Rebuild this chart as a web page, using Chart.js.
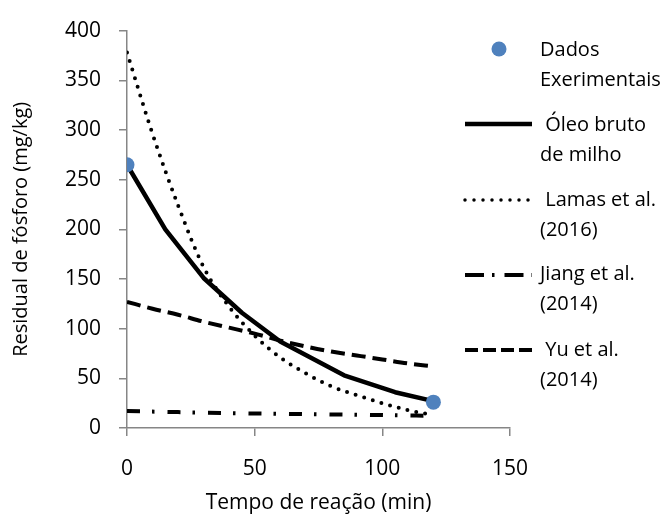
<!DOCTYPE html>
<html>
<head>
<meta charset="utf-8">
<script src="https://cdn.jsdelivr.net/npm/chart.js@4/dist/chart.umd.min.js"></script>
<style>
  html, body { margin: 0; padding: 0; background: #ffffff; }
  #wrap { position: relative; width: 668px; height: 516px; overflow: hidden; }
  canvas { position: absolute; left: 0; top: 0; }
  .lg { position: absolute; font-family: 'Open Sans', sans-serif; font-size: 20px; line-height: 30px; color: #000; white-space: pre; }
  .sw { position: absolute; }
</style>
</head>
<body>
<div id="wrap">
  <canvas id="c" width="668" height="516"></canvas>
  <svg class="sw" style="left:455px;top:30px" width="90" height="360" id="swatches"></svg>
  <div class="lg" style="left:540px;top:34px">Dados<br>Exerimentais</div>
  <div class="lg" style="left:540px;top:109px"> Óleo bruto<br>de milho</div>
  <div class="lg" style="left:540px;top:184px"> Lamas et al.<br>(2016)</div>
  <div class="lg" style="left:540px;top:258px">Jiang et al.<br>(2014)</div>
  <div class="lg" style="left:540px;top:334px"> Yu et al.<br>(2014)</div>
</div>
<script>
// ---- data ----
const expTime = [0, 120];
const expValues = [265, 26];

const oleoTime = [0, 15, 30, 45, 60, 85, 105, 120];
const oleoValues = [265, 200, 151, 116, 87, 53, 36, 27];

const lamasTime = [0, 10, 20, 30, 40, 50, 60, 70, 80, 90, 100, 110, 120];
const lamasValues = [378, 296, 224, 162, 122, 93, 71, 55, 42, 33, 25, 18, 13];

const jiangTime = [0, 20, 40, 60, 80, 100, 120];
const jiangValues = [17, 16, 15, 14.3, 13.6, 13, 12.3];

const yuTime = [0, 10, 20, 30, 40, 50, 60, 70, 80, 90, 100, 110, 120];
const yuValues = [127, 120, 114, 107, 101, 95, 88, 82, 77, 73, 69, 65, 62];

const seriesNames = ['Dados Exerimentais', 'Óleo bruto de milho', 'Lamas et al. (2016)', 'Jiang et al. (2014)', 'Yu et al. (2014)'];
const xTitle = 'Tempo de reação (min)';
const yTitle = 'Residual de fósforo (mg/kg)';
const xTicks = [0, 50, 100, 150];
const yTicks = [0, 50, 100, 150, 200, 250, 300, 350, 400];

const toXY = (xs, ys) => xs.map((x, i) => ({ x: x, y: ys[i] }));

const BLUE = 'rgb(79,129,189)';
const AXIS = '#868686';

new Chart(document.getElementById('c'), {
  type: 'scatter',
  data: {
    datasets: [
      { label: seriesNames[0], data: toXY(expTime, expValues), showLine: false,
        pointRadius: 7.5, pointHoverRadius: 7.5, backgroundColor: BLUE, borderColor: BLUE, borderWidth: 0 },
      { label: seriesNames[1], data: toXY(oleoTime, oleoValues), showLine: true, pointRadius: 0,
        borderColor: '#000', borderWidth: 4.5, tension: 0, borderJoinStyle: 'round' },
      { label: seriesNames[2], data: toXY(lamasTime, lamasValues), showLine: true, pointRadius: 0,
        borderColor: '#000', borderWidth: 4, cubicInterpolationMode: 'monotone',
        borderDash: [0, 9], borderCapStyle: 'round' },
      { label: seriesNames[3], data: toXY(jiangTime, jiangValues), showLine: true, pointRadius: 0,
        borderColor: '#000', borderWidth: 4, cubicInterpolationMode: 'monotone',
        borderDash: [13, 12, 2.5, 13] },
      { label: seriesNames[4], data: toXY(yuTime, yuValues), showLine: true, pointRadius: 0,
        borderColor: '#000', borderWidth: 4, cubicInterpolationMode: 'monotone',
        borderDash: [14, 7] }
    ]
  },
  options: {
    responsive: false,
    animation: false,
    events: [],
    layout: { padding: { left: 0, right: 158, top: 25, bottom: 0 } },
    plugins: { legend: { display: false }, tooltip: { enabled: false } },
    scales: {
      x: {
        type: 'linear', min: 0, max: 150,
        afterBuildTicks: s => { s.ticks = xTicks.map(v => ({ value: v })); },
        afterFit: s => { s.height = 88; },
        ticks: { color: '#000', padding: 20, font: { family: 'Open Sans', size: 21 } },
        grid: { drawOnChartArea: false, drawTicks: true, tickLength: 8, color: AXIS, lineWidth: 1.5 },
        border: { color: AXIS, width: 1.5 },
        title: { display: true, text: xTitle, color: '#000', font: { family: 'Open Sans', size: 21 }, padding: { top: 0, bottom: 0 } }
      },
      y: {
        type: 'linear', min: 0, max: 400,
        afterBuildTicks: s => { s.ticks = yTicks.map(v => ({ value: v })); },
        afterFit: s => { s.width = 127; },
        ticks: { color: '#000', padding: 18, font: { family: 'Open Sans', size: 21 } },
        grid: { drawOnChartArea: false, drawTicks: true, tickLength: 8, color: AXIS, lineWidth: 1.5 },
        border: { color: AXIS, width: 1.5 },
        title: { display: true, text: yTitle, color: '#000', font: { family: 'Open Sans', size: 20 }, padding: { top: 9, bottom: 0 } }
      }
    }
  }
});

// legend swatches (SVG, relative to left:455, top:30)
(function () {
  const svg = document.getElementById('swatches');
  const ns = 'http://www.w3.org/2000/svg';
  function line(y, w, dash, cap) {
    const l = document.createElementNS(ns, 'line');
    l.setAttribute('x1', 10); l.setAttribute('x2', 77);
    l.setAttribute('y1', y); l.setAttribute('y2', y);
    l.setAttribute('stroke', '#000'); l.setAttribute('stroke-width', w);
    if (dash) l.setAttribute('stroke-dasharray', dash);
    if (cap) l.setAttribute('stroke-linecap', cap);
    svg.appendChild(l);
  }
  const c = document.createElementNS(ns, 'circle');
  c.setAttribute('cx', 44); c.setAttribute('cy', 19); c.setAttribute('r', 7.5);
  c.setAttribute('fill', BLUE);
  svg.appendChild(c);
  line(94, 4.5, null, null);
  line(170, 3.5, '0 9', 'round');
  line(245, 4, '19 8 2.5 10', null);
  line(320, 4, '13 5', null);
})();
</script>
</body>
</html>
